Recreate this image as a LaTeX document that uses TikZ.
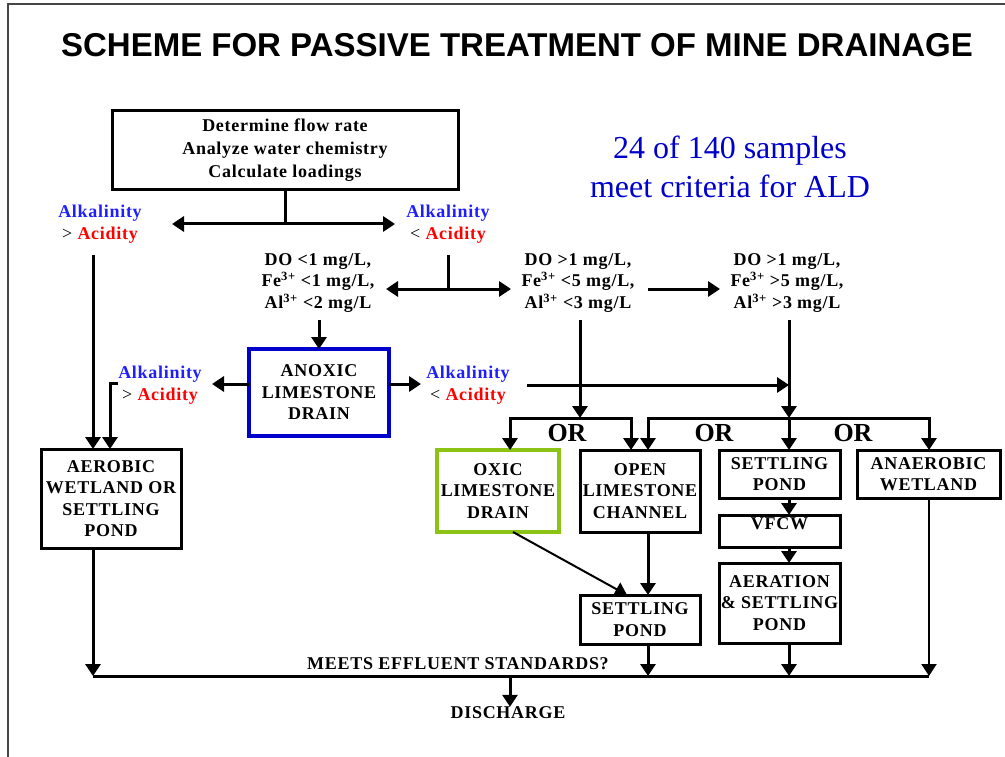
\documentclass[tikz,border=0pt]{standalone}
\usepackage{fontspec}
\setmainfont{Liberation Serif}
\newfontfamily\titlefont{Liberation Sans}
\newfontfamily\bodyfont[LetterSpace=4]{Liberation Serif}
\usetikzlibrary{arrows.meta}
\definecolor{alkblue}{RGB}{30,30,255}
\definecolor{acidred}{RGB}{255,0,0}
\definecolor{aldblue}{RGB}{0,0,204}
\definecolor{oxgreen}{RGB}{140,195,20}
\definecolor{noteblue}{RGB}{0,0,204}
\definecolor{framegray}{RGB}{70,70,70}
\newcommand{\alkword}{\textcolor{alkblue}{Alkalinity}}
\newcommand{\acidword}{\textcolor{acidred}{Acidity}}
\begin{document}
\begin{tikzpicture}[x=1pt,y=-1pt,
  txt/.style={font=\bodyfont\fontsize{18}{21.5}\selectfont\bfseries, align=center, inner sep=0pt},
  boxnode/.style={draw, line width=3pt, txt, anchor=north west, outer sep=0pt},
  arr/.style={line width=3pt, -{Triangle[width=15pt,length=12pt]}},
  thinarr/.style={line width=2pt, -{Triangle[width=15pt,length=12pt]}},
  seg/.style={line width=3pt},
  orlbl/.style={font=\fontsize{26}{26}\selectfont\bfseries, inner sep=0pt}]
\useasboundingbox (0,0) rectangle (1005,757);
\draw[line width=1.8pt, framegray] (8,757) -- (8,4) -- (1005,4);

% title and note
\node[font=\titlefont\bfseries\fontsize{33}{33}\selectfont, inner sep=0pt] (title) at (517,45) {SCHEME FOR PASSIVE TREATMENT OF MINE DRAINAGE};
\node[font=\fontsize{32}{39}\selectfont, text=noteblue, align=center, inner sep=0pt] (note) at (730,167) {24 of 140 samples\\meet criteria for ALD};

% top box
\node[boxnode, font=\bodyfont\fontsize{18}{23}\selectfont\bfseries, minimum width=346pt, minimum height=79pt] (top) at (112,111) {Determine flow rate\\Analyze water chemistry\\Calculate loadings};

% labels
\node[txt] (alkL1) at (100,224) {\alkword\\{\mdseries >} \acidword};
\node[txt] (alkR1) at (448,224) {\alkword\\{\mdseries <} \acidword};
\node[txt] (do1) at (318,283) {DO <1 mg/L,\\Fe\textsuperscript{3+} <1 mg/L,\\Al\textsuperscript{3+} <2 mg/L};
\node[txt] (do2) at (578,283) {DO >1 mg/L,\\Fe\textsuperscript{3+} <5 mg/L,\\Al\textsuperscript{3+} <3 mg/L};
\node[txt] (do3) at (787,283) {DO >1 mg/L,\\Fe\textsuperscript{3+} >5 mg/L,\\Al\textsuperscript{3+} >3 mg/L};
\node[txt] (alkL2) at (160,385) {\alkword\\{\mdseries >} \acidword};
\node[txt] (alkR2) at (468,385) {\alkword\\{\mdseries <} \acidword};

% boxes
\node[boxnode, draw=aldblue, line width=4.5pt, minimum width=140pt, minimum height=87pt] (anox) at (249,349) {ANOXIC\\LIMESTONE\\DRAIN};
\node[boxnode, minimum width=140pt, minimum height=99pt] (aer) at (41,449) {AEROBIC\\WETLAND OR\\SETTLING\\POND};
\node[boxnode, draw=oxgreen, line width=4pt, minimum width=122pt, minimum height=82pt] (oxic) at (437,450) {OXIC\\LIMESTONE\\DRAIN};
\node[boxnode, minimum width=120pt, minimum height=82pt] (open) at (580,450) {OPEN\\LIMESTONE\\CHANNEL};
\node[boxnode, minimum width=121pt, minimum height=48pt] (sp1) at (719,450) {SETTLING\\POND};
\node[boxnode, minimum width=143pt, minimum height=48pt] (anaer) at (857,450) {ANAEROBIC\\WETLAND};
\node[boxnode, minimum width=121pt, minimum height=32pt, label={[txt,anchor=north,yshift=-2pt]north:VFCW}] (vfcw) at (719,515) {};
\node[boxnode, minimum width=121pt, minimum height=80pt] (aera) at (719,563) {AERATION\\\& SETTLING\\POND};
\node[boxnode, minimum width=120pt, minimum height=49pt] (sp2) at (580,595) {SETTLING\\POND};

% OR labels
\node[orlbl] (or1) at (567,433) {OR};
\node[orlbl] (or2) at (714,433) {OR};
\node[orlbl] (or3) at (853,433) {OR};

\node[txt] (meets) at (458,664) {MEETS EFFLUENT STANDARDS?};
\node[txt] (disch) at (508,713) {DISCHARGE};

% coordinates
\coordinate (j1) at (285,224);
\coordinate (tL1) at (172,224);
\coordinate (tR1) at (395,224);
\coordinate (s1) at (93,255);
\coordinate (s2) at (448,255);
\coordinate (j2) at (448,289);
\coordinate (tL2) at (386,289);
\coordinate (tR2) at (511,289);
\coordinate (s3) at (319,320);
\coordinate (tL3) at (212,384);
\coordinate (h1) at (118,383);
\coordinate (h2) at (110,383);
\coordinate (tR3) at (421,384);
\coordinate (s4) at (527,385);
\coordinate (c3) at (789,385);
\coordinate (s5) at (648,289);
\coordinate (tR5) at (720,289);
\coordinate (v1) at (580,320);
\coordinate (v1b) at (580,418);
\coordinate (v2) at (789,320);
\coordinate (v2b) at (789,418);
\coordinate (b1l) at (510,418);
\coordinate (b1r) at (631,418);
\coordinate (b2l) at (648,418);
\coordinate (b2r) at (929,418);
\coordinate (bl) at (93,676);
\coordinate (br) at (929,676);
\coordinate (dd) at (510,676);

% connectors
\draw[seg] (j1 |- top.south) -- (j1);
\draw[arr] (j1) -- (tL1);
\draw[arr] (j1) -- (tR1);
\draw[arr] (s1) -- (s1 |- aer.north);
\draw[seg] (s2) -- (j2);
\draw[arr] (j2) -- (tL2);
\draw[arr] (j2) -- (tR2);
\draw[arr] (s3) -- (s3 |- anox.north);
\draw[arr] (anox.west |- tL3) -- (tL3);
\draw[arr] (h1) -- (h2) -- (h2 |- aer.north);
\draw[arr] (anox.east |- tR3) -- (tR3);
\draw[arr] (s4) -- (c3);
\draw[arr] (s5) -- (tR5);
\draw[arr] (v1) -- (v1b);
\draw[arr] (v2) -- (v2b);
\draw[arr] (b1r) -- (b1l) -- (b1l |- oxic.north);
\draw[arr] (b1l) -- (b1r) -- (b1r |- open.north);
\draw[arr] (b2r) -- (b2l) -- (b2l |- open.north);
\draw[arr] (b2l) -- (b2r) -- (b2r |- anaer.north);
\draw[arr] (v2b) -- (v2b |- sp1.north);
\draw[arr] (sp1.south -| v2) -- (vfcw.north -| v2);
\draw[arr] (vfcw.south -| v2) -- (aera.north -| v2);
\draw[thinarr] ([xshift=15pt]oxic.south) -- ([xshift=-13pt]sp2.north);
\draw[arr] ([xshift=8pt]open.south) -- ([xshift=8pt]sp2.north);
\draw[seg] (bl) -- (br);
\draw[arr] (aer.south -| bl) -- (bl);
\draw[arr] ([xshift=8pt]sp2.south) -- ([xshift=8pt]sp2.south |- bl);
\draw[arr] (aera.south -| v2) -- (v2 |- bl);
\draw[thinarr] (anaer.south -| br) -- (br);
\draw[arr] (dd) -- (dd |- disch.north);
\end{tikzpicture}
\end{document}
